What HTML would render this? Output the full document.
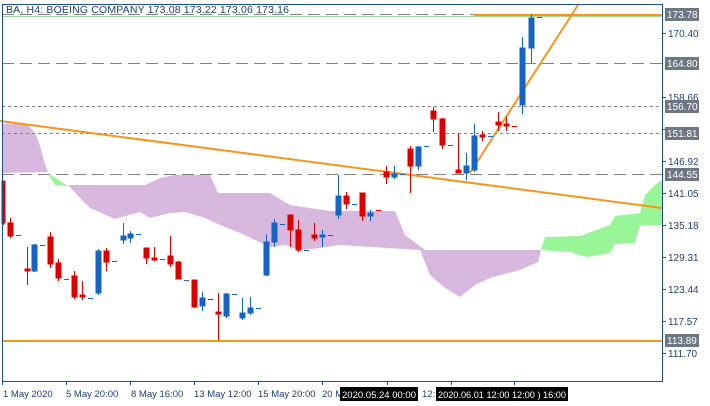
<!DOCTYPE html>
<html><head><meta charset="utf-8"><style>
body{margin:0;background:#fff;}
svg{display:block;font-family:"Liberation Sans",Tahoma,sans-serif;}
</style></head><body>
<svg width="710" height="406" viewBox="0 0 710 406" xmlns="http://www.w3.org/2000/svg">
<rect width="710" height="406" fill="#fff"/>
<path d="M2,124 L25,124 C40,130 42,160 48,172 L68,185 L145,185 L160,178 L175,175 L210,175 L218,193 L270,193 L290,205 L330,211 L395,211 L405,235 L425,250 L541,250 L538,262 L520,270 L490,278 L475,285 L460,297 L445,288 L430,275 L420,250 L340,245 L320,248 L300,250 L285,245 L270,247 L240,233 L220,225 L205,218 L185,212 L170,213 L150,218 L140,212 L115,219 L90,208 L80,198 L68,185 L48,172 L2,173 Z" fill="#d8b8df"/>
<path d="M48,173 L55,185 L68,186 Z" fill="#98f598"/>
<path d="M541,250 L545,237 L580,236 L610,225 L615,216 L640,213 L645,195 L655,185 L662,180 L662,225 L640,225 L635,243 L615,244 L610,253 L587,257 L570,252 Z" fill="#98f598"/>
<g stroke="#808080" stroke-width="1">
<line x1="2" y1="14.5" x2="662" y2="14.5" stroke-dasharray="12,6"/>
<line x1="2" y1="63.5" x2="662" y2="63.5" stroke-dasharray="12,6"/>
<line x1="2" y1="106.5" x2="662" y2="106.5" stroke-dasharray="3,3"/>
<line x1="2" y1="133.5" x2="662" y2="133.5" stroke-dasharray="3,3"/>
<line x1="2" y1="174.5" x2="662" y2="174.5" stroke-dasharray="12,6"/>
</g>
<line x1="2" y1="16.5" x2="662" y2="16.5" stroke="#9fd89f" stroke-width="1"/>
<g stroke="#f7941d" stroke-width="2" fill="none">
<line x1="2" y1="341" x2="662" y2="341"/>
<line x1="474" y1="15" x2="662" y2="15"/>
<line x1="0" y1="121" x2="662" y2="208"/>
<line x1="470" y1="173" x2="578" y2="5"/>
</g>
<g>
<g fill="#d90000" stroke="#d90000">
<line x1="3.5" y1="181" x2="3.5" y2="225"/><rect x="2" y="181" width="3" height="42"/>
<line x1="10.5" y1="218" x2="10.5" y2="238"/><rect x="8" y="223" width="5" height="13"/>
<line x1="27.5" y1="247" x2="27.5" y2="285"/><rect x="25" y="269" width="5" height="2"/>
<line x1="50.5" y1="232" x2="50.5" y2="268"/><rect x="48" y="237" width="5" height="27"/>
<line x1="58.5" y1="259" x2="58.5" y2="281"/><rect x="56" y="263" width="5" height="15"/>
<line x1="74.5" y1="271" x2="74.5" y2="299"/><rect x="72" y="276" width="5" height="21"/>
<line x1="82.5" y1="281" x2="82.5" y2="300"/><rect x="80" y="295" width="5" height="2"/>
<line x1="106.5" y1="248" x2="106.5" y2="271"/><rect x="104" y="251" width="5" height="11"/>
<line x1="146.5" y1="248" x2="146.5" y2="264"/><rect x="144" y="248" width="5" height="10"/>
<line x1="154.5" y1="247" x2="154.5" y2="261"/><rect x="152" y="258" width="5" height="2"/>
<line x1="170.5" y1="236" x2="170.5" y2="267"/><rect x="168" y="256" width="5" height="8"/>
<line x1="178.5" y1="261" x2="178.5" y2="279"/><rect x="176" y="262" width="5" height="17"/>
<line x1="194.5" y1="280" x2="194.5" y2="308"/><rect x="192" y="280" width="5" height="27"/>
<line x1="208" y1="299.5" x2="213" y2="299.5"/>
<line x1="218.5" y1="293" x2="218.5" y2="340"/><rect x="216" y="312" width="5" height="2"/>
<line x1="290.5" y1="215" x2="290.5" y2="247"/><rect x="288" y="215" width="5" height="15"/>
<line x1="298.5" y1="220" x2="298.5" y2="252"/><rect x="296" y="230" width="5" height="20"/>
<line x1="314.5" y1="223" x2="314.5" y2="241"/><rect x="312" y="235" width="5" height="3"/>
<line x1="346.5" y1="192" x2="346.5" y2="209"/><rect x="344" y="196" width="5" height="8"/>
<line x1="362.5" y1="193" x2="362.5" y2="221"/><rect x="360" y="193" width="5" height="23"/>
<line x1="376" y1="210.5" x2="381" y2="210.5"/>
<line x1="386.5" y1="166" x2="386.5" y2="184"/><rect x="384" y="172" width="5" height="5"/>
<line x1="410.5" y1="146" x2="410.5" y2="193"/><rect x="408" y="149" width="5" height="17"/>
<line x1="433.5" y1="107" x2="433.5" y2="132"/><rect x="431" y="111" width="5" height="8"/>
<line x1="442.5" y1="118" x2="442.5" y2="149"/><rect x="440" y="119" width="5" height="26"/>
<line x1="458.5" y1="133" x2="458.5" y2="173"/><rect x="456" y="170" width="5" height="3"/>
<line x1="482.5" y1="131" x2="482.5" y2="141"/><rect x="480" y="135" width="5" height="2"/>
<line x1="498.5" y1="112" x2="498.5" y2="131"/><rect x="496" y="122" width="5" height="3"/>
<line x1="506.5" y1="117" x2="506.5" y2="131"/><rect x="504" y="124" width="5" height="2"/>
<line x1="512" y1="126.5" x2="517" y2="126.5"/>
</g>
<g fill="#1565c0" stroke="#1565c0">
<line x1="34.5" y1="244" x2="34.5" y2="272"/><rect x="32" y="245" width="5" height="26"/>
<line x1="98.5" y1="249" x2="98.5" y2="295"/><rect x="96" y="251" width="5" height="42"/>
<line x1="123.5" y1="223" x2="123.5" y2="244"/><rect x="121" y="236" width="5" height="4"/>
<line x1="130.5" y1="231" x2="130.5" y2="243"/><rect x="128" y="234" width="5" height="4"/>
<line x1="202.5" y1="292" x2="202.5" y2="311"/><rect x="200" y="298" width="5" height="8"/>
<line x1="226.5" y1="293" x2="226.5" y2="318"/><rect x="224" y="294" width="5" height="22"/>
<line x1="242.5" y1="298" x2="242.5" y2="320"/><rect x="240" y="313" width="5" height="5"/>
<line x1="250.5" y1="297" x2="250.5" y2="315"/><rect x="248" y="308" width="5" height="5"/>
<line x1="266.5" y1="234" x2="266.5" y2="276"/><rect x="264" y="242" width="5" height="33"/>
<line x1="274.5" y1="219" x2="274.5" y2="247"/><rect x="272" y="223" width="5" height="19"/>
<line x1="322.5" y1="230" x2="322.5" y2="247"/><rect x="320" y="235" width="5" height="2"/>
<line x1="338.5" y1="175" x2="338.5" y2="219"/><rect x="336" y="196" width="5" height="19"/>
<line x1="370.5" y1="210" x2="370.5" y2="221"/><rect x="368" y="213" width="5" height="3"/>
<line x1="394.5" y1="166" x2="394.5" y2="179"/><rect x="392" y="174" width="5" height="3"/>
<line x1="418.5" y1="146" x2="418.5" y2="170"/><rect x="416" y="147" width="5" height="19"/>
<line x1="466.5" y1="153" x2="466.5" y2="180"/><rect x="464" y="166" width="5" height="7"/>
<line x1="474.5" y1="124" x2="474.5" y2="172"/><rect x="472" y="136" width="5" height="34"/>
<line x1="522.5" y1="37" x2="522.5" y2="114"/><rect x="520" y="48" width="5" height="57"/>
<line x1="531.5" y1="14" x2="531.5" y2="63"/><rect x="529" y="18" width="5" height="30"/>
</g>
<g stroke="#1565c0">
<line x1="16" y1="235.5" x2="21" y2="235.5"/><line x1="40" y1="245.5" x2="45" y2="245.5"/>
<line x1="64" y1="279.5" x2="69" y2="279.5"/><line x1="88" y1="298.5" x2="93" y2="298.5"/>
<line x1="112" y1="261.5" x2="117" y2="261.5"/><line x1="136" y1="234.5" x2="141" y2="234.5"/>
<line x1="160" y1="259.5" x2="165" y2="259.5"/><line x1="184" y1="280.5" x2="189" y2="280.5"/>
<line x1="232" y1="294.5" x2="237" y2="294.5"/><line x1="256" y1="308.5" x2="261" y2="308.5"/>
<line x1="280" y1="224.5" x2="285" y2="224.5"/><line x1="304" y1="250.5" x2="309" y2="250.5"/>
<line x1="328" y1="235.5" x2="333" y2="235.5"/><line x1="352" y1="204.5" x2="357" y2="204.5"/>
<line x1="400" y1="174.5" x2="405" y2="174.5"/><line x1="424" y1="146.5" x2="429" y2="146.5"/>
<line x1="448" y1="145.5" x2="453" y2="145.5"/><line x1="488" y1="136.5" x2="493" y2="136.5"/>
<line x1="537" y1="17.5" x2="542" y2="17.5"/>
</g>
</g>
<rect x="2.5" y="4.5" width="660" height="377" fill="none" stroke="#1c4f8c"/>
<text x="6" y="13" font-size="10.5" fill="#1c3f78" textLength="283" lengthAdjust="spacing">BA, H4:  BOEING COMPANY  173.08 173.22 173.06 173.16</text>
<g stroke="#1c4f8c">
<line x1="662" y1="33.5" x2="666" y2="33.5"/><line x1="662" y1="97.5" x2="666" y2="97.5"/>
<line x1="662" y1="129.5" x2="666" y2="129.5"/><line x1="662" y1="161.5" x2="666" y2="161.5"/>
<line x1="662" y1="193.5" x2="666" y2="193.5"/><line x1="662" y1="225.5" x2="666" y2="225.5"/>
<line x1="662" y1="257.5" x2="666" y2="257.5"/><line x1="662" y1="289.5" x2="666" y2="289.5"/>
<line x1="662" y1="321.5" x2="666" y2="321.5"/><line x1="662" y1="353.5" x2="666" y2="353.5"/>
</g>
<g font-size="10" fill="#1c3f78">
<text x="668" y="37">170.40</text><text x="668" y="101">158.66</text>
<text x="668" y="165">146.92</text><text x="668" y="197">141.05</text>
<text x="668" y="229">135.18</text><text x="668" y="261">129.31</text>
<text x="668" y="293">123.44</text><text x="668" y="325">117.57</text>
<text x="668" y="357">111.70</text>
</g>
<g fill="#6e7782">
<rect x="665" y="8" width="34" height="13"/><rect x="665" y="57" width="34" height="13"/>
<rect x="665" y="100" width="34" height="13"/><rect x="665" y="127" width="34" height="13"/>
<rect x="665" y="168" width="34" height="13"/><rect x="665" y="334" width="34" height="13"/>
</g>
<g font-size="10" fill="#fff">
<text x="667" y="18">173.78</text><text x="667" y="67">164.80</text>
<text x="667" y="110">156.70</text><text x="667" y="137">151.81</text>
<text x="667" y="178">144.55</text><text x="667" y="344">113.89</text>
</g>
<g stroke="#1c4f8c">
<line x1="2.5" y1="381" x2="2.5" y2="385"/><line x1="66.5" y1="381" x2="66.5" y2="385"/>
<line x1="130.5" y1="381" x2="130.5" y2="385"/><line x1="194.5" y1="381" x2="194.5" y2="385"/>
<line x1="258.5" y1="381" x2="258.5" y2="385"/><line x1="322.5" y1="381" x2="322.5" y2="385"/>
<line x1="387.5" y1="381" x2="387.5" y2="385"/><line x1="451.5" y1="381" x2="451.5" y2="385"/>
<line x1="514.5" y1="381" x2="514.5" y2="385"/>
</g>
<g font-size="9.5" fill="#1c3f78">
<text x="3" y="397">1 May 2020</text><text x="66" y="397">5 May 20:00</text>
<text x="131" y="397">8 May 16:00</text><text x="194" y="397">13 May 12:00</text>
<text x="258" y="397">15 May 20:00</text><text x="322" y="397">20 M</text>
<text x="422" y="397">12:</text>
</g>
<rect x="340" y="387" width="78" height="14" fill="#000"/>
<rect x="436" y="387" width="132" height="14" fill="#000"/>
<g font-size="9.5" fill="#fff">
<text x="342" y="398" textLength="74" lengthAdjust="spacingAndGlyphs">2020.05.24 00:00</text>
<text x="438" y="398" textLength="128" lengthAdjust="spacingAndGlyphs">2020.06.01 12:00 12:00 ) 16:00</text>
</g>
</svg>
</body></html>
